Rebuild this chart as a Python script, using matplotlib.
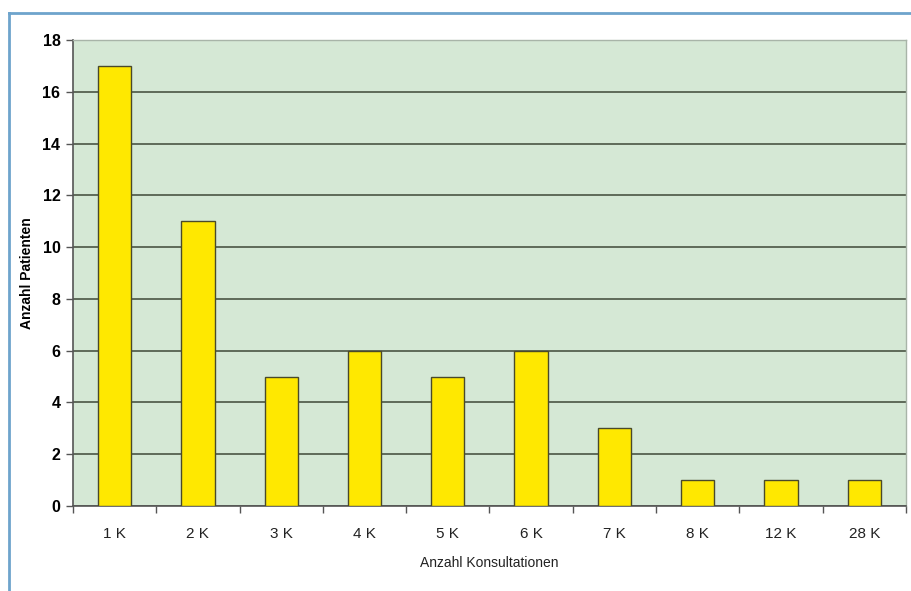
import numpy as np
import matplotlib.pyplot as plt
from matplotlib.lines import Line2D

categories = ['1 K', '2 K', '3 K', '4 K', '5 K', '6 K', '7 K', '8 K', '12 K', '28 K']
patients = [17, 11, 5, 6, 5, 6, 3, 1, 1, 1]

plt.rcParams['font.family'] = ['Liberation Sans', 'DejaVu Sans']

fig = plt.figure(figsize=(9.11, 5.91), dpi=100)
ax = fig.add_axes([0.0801, 0.1438, 0.9144, 0.7885])

x = np.arange(len(categories))
ax.set_facecolor('#d5e8d5')
ax.bar(x, patients, width=0.4, color='#ffe800', edgecolor='#4a4a2a',
       linewidth=1.0, zorder=3)

ax.set_xlim(-0.5, len(categories) - 0.5)
ax.set_ylim(0, 18)
ax.set_yticks(np.arange(0, 19, 2))
ax.set_yticklabels([str(v) for v in range(0, 19, 2)], fontsize=11.5, fontweight='bold')
ax.yaxis.grid(True, color='#55604f', linewidth=1.3, zorder=1)
ax.set_axisbelow(True)

# tick marks sit between the categories, labels under the bars
ax.set_xticks(np.arange(-0.5, len(categories), 1.0))
ax.set_xticklabels([])
ax.set_xticks(x, minor=True)
ax.set_xticklabels(categories, minor=True, fontsize=11, color='#222222')
ax.tick_params(axis='x', which='minor', length=0, pad=15)
ax.tick_params(axis='x', which='major', length=5, color='#555555', width=1)
ax.tick_params(axis='y', length=5, color='#555555', width=1, pad=4)

ax.set_xlabel('Anzahl Konsultationen', fontsize=10, color='#222222', labelpad=11)
ax.set_ylabel('Anzahl Patienten', fontsize=10, fontweight='bold', labelpad=6)

for side in ['left', 'bottom']:
    ax.spines[side].set_color('#555555')
    ax.spines[side].set_linewidth(1.2)
for side in ['top', 'right']:
    ax.spines[side].set_color('#a8b4a8')
    ax.spines[side].set_linewidth(1.0)

# blue frame on the top and left edge
fig.add_artist(Line2D([9 / 911, 1], [1 - 13 / 591, 1 - 13 / 591],
                      transform=fig.transFigure, color='#6ea4cc', linewidth=2))
fig.add_artist(Line2D([9 / 911, 9 / 911], [0, 1 - 13 / 591],
                      transform=fig.transFigure, color='#6ea4cc', linewidth=2))

fig.savefig('out.png', dpi=100)
